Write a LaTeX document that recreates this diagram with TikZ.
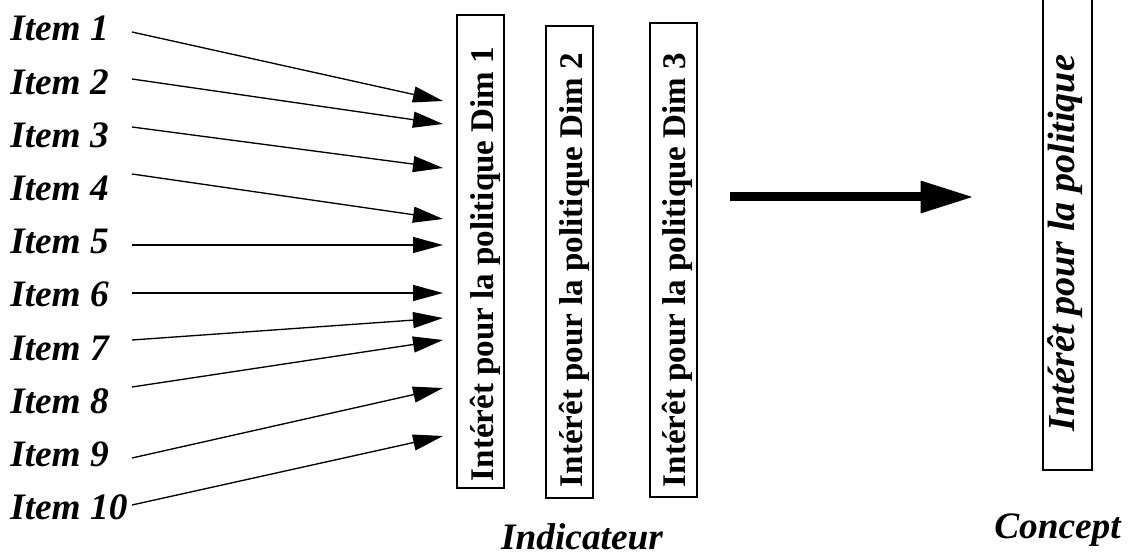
\documentclass[tikz,border=0pt]{standalone}
\usepackage{fontspec}
\setmainfont{Liberation Serif}
\usetikzlibrary{arrows.meta}
\begin{document}
\begin{tikzpicture}[x=0.75pt,y=-0.75pt,
  itemlbl/.style={anchor=base west,inner sep=0pt,font=\fontsize{28}{30}\selectfont\bfseries\itshape},
  lbl/.style={anchor=base,inner sep=0pt,font=\fontsize{28}{30}\selectfont\bfseries\itshape},
  dimtext/.style={rotate=90,anchor=base,inner sep=0pt,font=\fontsize{24.8}{28}\selectfont\bfseries},
  concepttext/.style={rotate=90,anchor=base,inner sep=0pt,font=\fontsize{28.6}{30}\selectfont\bfseries\itshape},
  boxline/.style={draw,line width=1.5pt,inner sep=0pt,minimum width=35.25pt},
  thin/.style={line width=1pt,-{Triangle[length=22.5pt,width=12pt]}},
  thick/.style={line width=6.75pt,-{Triangle[length=40pt,width=22.5pt]}}]
\useasboundingbox (0,0) rectangle (1135,555);
% items
\foreach \i/\b in {1/41,2/94.2,3/147.4,4/200.6,5/253.8,6/307,7/360.2,8/413.4,9/466.6,10/519.8}
  \node[itemlbl] (item\i) at (10,\b) {Item \i};
% arrow start / end points
\foreach \i/\sy/\ty in {1/32/101,2/79/124,3/127/168,4/174/219,5/245/245,6/293/293,7/340/318,8/387/340,9/458/388,10/505/436}{
  \coordinate (s\i) at (132,\sy);
  \coordinate (t\i) at (443,\ty);
}
\foreach \i in {1,...,10}
  \draw[thin] (s\i) -- (t\i);
% dimension boxes
\node[boxline,minimum height=354.75pt] (d1) at (480.5,251.5) {};
\node[boxline,minimum height=354pt] (d2) at (569.5,262) {};
\node[boxline,minimum height=355.5pt] (d3) at (673,260) {};
\node[dimtext] (d1t) at (493,264) {Intérêt pour la politique Dim 1};
\node[dimtext] (d2t) at (582,270) {Intérêt pour la politique Dim 2};
\node[dimtext] (d3t) at (685,270) {Intérêt pour la politique Dim 3};
% big arrow
\coordinate (ba) at (730,197);
\coordinate (bb) at (974,197);
\draw[thick] (ba) -- (bb);
% concept box
\node[boxline,minimum width=36.75pt,minimum height=356.25pt] (cb) at (1067.5,232.5) {};
\node[concepttext] (cbt) at (1074,243) {Intérêt pour la politique};
% captions
\node[lbl] (ind) at (582,550) {Indicateur};
\node[lbl] (con) at (1057.5,538) {Concept};
\end{tikzpicture}
\end{document}
